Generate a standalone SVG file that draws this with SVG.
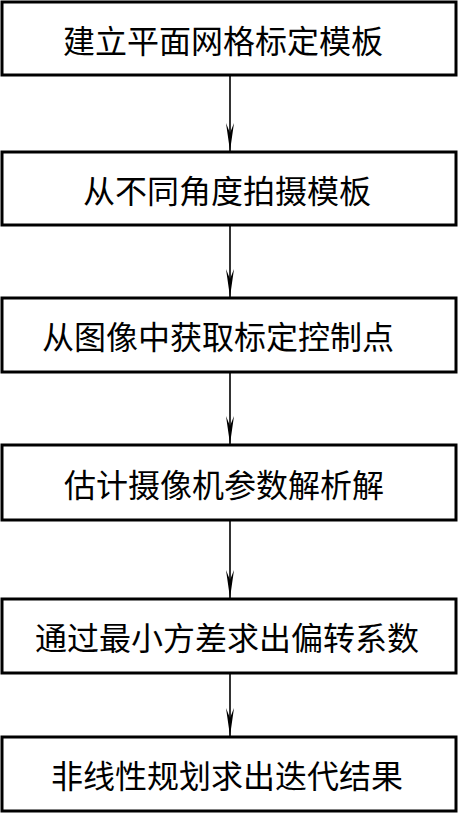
<svg xmlns="http://www.w3.org/2000/svg" width="459" height="814" viewBox="0 0 459 814">
<style>
.box{fill:#fff;stroke:#000;stroke-width:3}
.t{font-family:"Noto Sans CJK SC","Noto Sans CJK JP",sans-serif;font-size:32px;fill:#000;text-anchor:middle;dominant-baseline:central}
.c{stroke:#000;stroke-width:1.6;fill:none}
</style>
<defs>
<marker id="ah" markerUnits="userSpaceOnUse" markerWidth="30" markerHeight="10" refX="28" refY="5" orient="auto" viewBox="0 0 30 10">
<path d="M28,5 L0,1 L10,5 L0,9 Z" fill="#000"/>
</marker>
</defs>
<rect width="459" height="814" fill="#fff"/>
<g id="connectors">
<line class="c" x1="230" y1="76" x2="230" y2="151" marker-end="url(#ah)"/>
<line class="c" x1="230" y1="226" x2="230" y2="297" marker-end="url(#ah)"/>
<line class="c" x1="230" y1="373" x2="230" y2="444" marker-end="url(#ah)"/>
<line class="c" x1="230" y1="521" x2="230" y2="598" marker-end="url(#ah)"/>
<line class="c" x1="230" y1="674" x2="230" y2="736" marker-end="url(#ah)"/>
</g>
<g id="n1"><rect class="box" x="2" y="2" width="454" height="73"/><text class="t" x="223" y="38.5">建立平面网格标定模板</text></g>
<g id="n2"><rect class="box" x="2" y="152" width="454" height="73"/><text class="t" x="227" y="188.5">从不同角度拍摄模板</text></g>
<g id="n3"><rect class="box" x="2" y="298" width="454" height="74"/><text class="t" x="218" y="335">从图像中获取标定控制点</text></g>
<g id="n4"><rect class="box" x="2" y="445" width="454" height="75"/><text class="t" x="224" y="482.5">估计摄像机参数解析解</text></g>
<g id="n5"><rect class="box" x="2" y="599" width="454" height="74"/><text class="t" x="227" y="636">通过最小方差求出偏转系数</text></g>
<g id="n6"><rect class="box" x="2" y="737" width="454" height="74"/><text class="t" x="227" y="774">非线性规划求出迭代结果</text></g>
</svg>
